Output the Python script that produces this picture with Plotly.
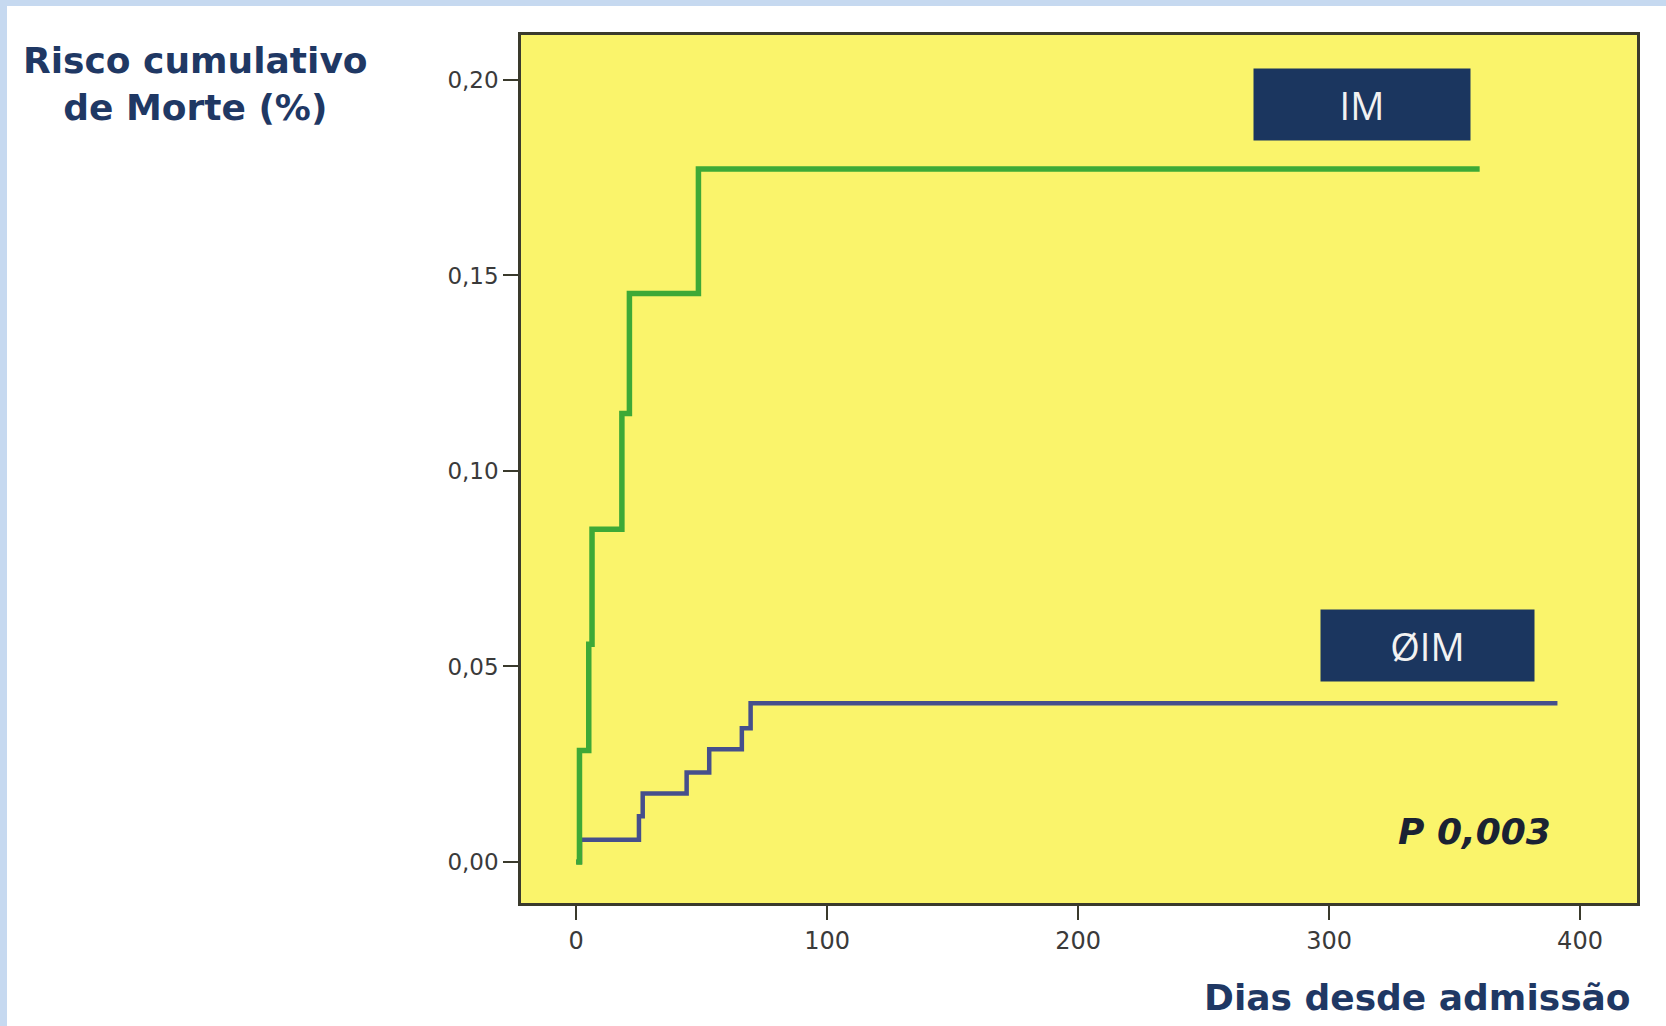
import plotly.graph_objects as go

# ---- data ----
im_days = [0, 1.3, 5.0, 6.3, 18.2, 21.2, 48.7, 360]
im_risk = [0.0, 0.0285, 0.0557, 0.0851, 0.1147, 0.1454, 0.1772, 0.1772]

noim_days = [0, 1.5, 25.0, 26.5, 44.0, 53.0, 66.0, 69.5, 391]
noim_risk = [0.0, 0.0057, 0.0117, 0.0175, 0.0229, 0.0288, 0.0342, 0.0406, 0.0406]

y_tick_vals = [0.0, 0.05, 0.10, 0.15, 0.20]
y_tick_text = ["0,00", "0,05", "0,10", "0,15", "0,20"]
x_tick_vals = [0, 100, 200, 300, 400]
x_tick_text = ["0", "100", "200", "300", "400"]

series_labels = ["IM", "ØIM"]
p_value_text = "P 0,003"
y_title = "Risco cumulativo<br>de Morte (%)"
x_title = "Dias desde admissão"

# ---- styles ----
GREEN = "#3DA936"
BLUE = "#454F8C"
YELLOW = "#FAF46B"
NAVY = "#1B365F"
TITLE_NAVY = "#1F3864"
FRAME = "#C6D9F0"
AXIS = "#3A3A2C"

W, H = 1666, 1026
ML, MR, MT, MB = 521, 29, 35, 123

fig = go.Figure()
fig.add_trace(go.Scatter(x=noim_days, y=noim_risk, mode="lines", line_shape="hv",
                         line=dict(color=BLUE, width=4.5), name=series_labels[1],
                         showlegend=False))
fig.add_trace(go.Scatter(x=im_days, y=im_risk, mode="lines", line_shape="hv",
                         line=dict(color=GREEN, width=5.5), name=series_labels[0],
                         showlegend=False))

def px_to_paper_x(px):
    return (px - ML) / (W - ML - MR)

def px_to_paper_y(py):
    return (H - MB - py) / (H - MT - MB)

annotations = [
    dict(text=series_labels[0], x=313.1, y=0.1937, xref="x", yref="y",
         showarrow=False, bgcolor=NAVY, width=214, height=69,
         font=dict(family="Open Sans", size=38, color="#F2F2F2")),
    dict(text=series_labels[1], x=339.2, y=0.0554, xref="x", yref="y",
         showarrow=False, bgcolor=NAVY, width=211, height=69,
         font=dict(family="Open Sans", size=38, color="#F2F2F2")),
    dict(text="<b><i>" + p_value_text + "</i></b>", x=357.8, y=0.0079, xref="x", yref="y",
         showarrow=False, font=dict(family="DejaVu Sans", size=36, color="#1A2233")),
    dict(text="<b>" + y_title + "</b>", x=px_to_paper_x(195), y=px_to_paper_y(84),
         xref="paper", yref="paper", xanchor="center", yanchor="middle",
         showarrow=False, align="center",
         font=dict(family="DejaVu Sans", size=36, color=TITLE_NAVY)),
    dict(text="<b>" + x_title + "</b>", x=px_to_paper_x(1633), y=px_to_paper_y(997),
         xref="paper", yref="paper", showarrow=False, xanchor="right", yanchor="middle",
         font=dict(family="DejaVu Sans", size=36, color=TITLE_NAVY)),
]

shapes = [
    # light blue page frame (top and left bands)
    dict(type="rect", xref="paper", yref="paper", layer="below",
         x0=px_to_paper_x(0), x1=px_to_paper_x(W), y0=px_to_paper_y(6), y1=px_to_paper_y(0),
         fillcolor=FRAME, line=dict(width=0)),
    dict(type="rect", xref="paper", yref="paper", layer="below",
         x0=px_to_paper_x(0), x1=px_to_paper_x(7), y0=px_to_paper_y(H), y1=px_to_paper_y(0),
         fillcolor=FRAME, line=dict(width=0)),
]

fig.update_layout(
    width=W, height=H,
    margin=dict(l=ML, r=MR, t=MT, b=MB, pad=0),
    paper_bgcolor="white", plot_bgcolor=YELLOW,
    annotations=annotations, shapes=shapes,
    showlegend=False,
)
fig.update_xaxes(range=[-22, 422.7], tickvals=x_tick_vals, ticktext=x_tick_text,
                 showgrid=False, zeroline=False, showline=True, linecolor=AXIS, linewidth=2.5,
                 mirror=True, ticks="outside", ticklen=14, tickwidth=2, tickcolor=AXIS,
                 tickfont=dict(family="DejaVu Sans", size=24, color="#3A3A3A"))
fig.update_yaxes(range=[-0.0105, 0.2115], tickvals=y_tick_vals, ticktext=y_tick_text,
                 showgrid=False, zeroline=False, showline=True, linecolor=AXIS, linewidth=2.5,
                 mirror=True, ticks="outside", ticklen=15, tickwidth=2, tickcolor=AXIS,
                 tickfont=dict(family="DejaVu Sans", size=23, color="#3A3A3A"))

fig.write_html("out.html", config={"displayModeBar": False},
               post_script="document.body.style.margin='0';document.body.style.overflow='hidden';")
